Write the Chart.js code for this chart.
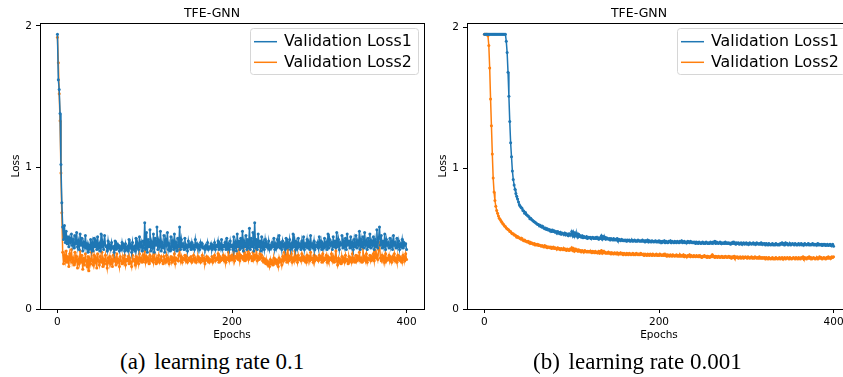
<!DOCTYPE html>
<html>
<head>
<meta charset="utf-8">
<script src="https://cdn.jsdelivr.net/npm/chart.js@4.4.1/dist/chart.umd.min.js"></script>
<style>
    html, body { margin: 0; padding: 0; background: #fff; overflow: hidden; width: 843px; height: 377px; }
    canvas { position: absolute; top: 0; }
    #chartA { left: 0; }
    #chartB { left: 427px; }
    .caption { position: absolute; top: 350px; font: 23px "Liberation Serif", "Times New Roman", serif; line-height: 23px; white-space: nowrap; color: #000; }
    .caption span { margin-right: 3px; }
</style>
</head>
<body>
<canvas id="chartA" width="430" height="345"></canvas>
<canvas id="chartB" width="430" height="345"></canvas>
<div class="caption" style="left:120px"><span>(a)</span> learning rate 0.1</div>
<div class="caption" style="left:533px"><span>(b)</span> learning rate 0.001</div>
<script>
const chartTitle = 'TFE-GNN';
const seriesNames = ['Validation Loss1', 'Validation Loss2'];
const xTicks = [0, 200, 400];
const yTicks = [0, 1, 2];

// (a) learning rate 0.1
const lossA1 = [
    1.94, 1.62, 1.55, 1.38, 1.02, 0.75, 0.58, 0.49, 0.59, 0.47, 0.55, 0.46, 0.51, 0.44, 0.50, 0.47, 0.53, 0.45, 0.49, 0.43,
    0.52, 0.46, 0.54, 0.44, 0.48, 0.42, 0.53, 0.45, 0.50, 0.41, 0.47, 0.44, 0.52, 0.43, 0.46, 0.40, 0.45, 0.43, 0.49, 0.42,
    0.47, 0.41, 0.50, 0.44, 0.48, 0.42, 0.51, 0.43, 0.46, 0.41, 0.53, 0.44, 0.47, 0.42, 0.52, 0.45, 0.44, 0.41, 0.48, 0.43,
    0.45, 0.42, 0.47, 0.43, 0.44, 0.40, 0.48, 0.42, 0.46, 0.43, 0.45, 0.41, 0.44, 0.42, 0.47, 0.43, 0.45, 0.41, 0.46, 0.42,
    0.44, 0.41, 0.49, 0.43, 0.45, 0.40, 0.47, 0.42, 0.44, 0.41, 0.50, 0.43, 0.46, 0.42, 0.51, 0.44, 0.47, 0.41, 0.48, 0.43,
    0.61, 0.42, 0.54, 0.40, 0.49, 0.44, 0.56, 0.41, 0.47, 0.43, 0.53, 0.40, 0.50, 0.45, 0.58, 0.42, 0.48, 0.44, 0.55, 0.41,
    0.47, 0.43, 0.52, 0.40, 0.49, 0.45, 0.54, 0.42, 0.46, 0.41, 0.51, 0.44, 0.48, 0.42, 0.53, 0.43, 0.47, 0.41, 0.50, 0.44,
    0.58, 0.42, 0.49, 0.44, 0.46, 0.42, 0.50, 0.43, 0.45, 0.41, 0.48, 0.44, 0.46, 0.42, 0.47, 0.43, 0.45, 0.42, 0.49, 0.44,
    0.46, 0.43, 0.45, 0.42, 0.47, 0.44, 0.46, 0.43, 0.44, 0.42, 0.45, 0.43, 0.47, 0.42, 0.44, 0.43, 0.46, 0.42, 0.45, 0.43,
    0.47, 0.42, 0.45, 0.44, 0.48, 0.42, 0.46, 0.43, 0.49, 0.42, 0.45, 0.44, 0.47, 0.42, 0.50, 0.43, 0.46, 0.42, 0.48, 0.44,
    0.45, 0.42, 0.51, 0.43, 0.47, 0.41, 0.53, 0.44, 0.48, 0.42, 0.50, 0.43, 0.55, 0.41, 0.48, 0.44, 0.52, 0.42, 0.49, 0.43,
    0.57, 0.42, 0.50, 0.44, 0.54, 0.41, 0.61, 0.43, 0.49, 0.42, 0.53, 0.44, 0.48, 0.41, 0.51, 0.43, 0.47, 0.42, 0.49, 0.44,
    0.46, 0.43, 0.48, 0.42, 0.45, 0.43, 0.47, 0.44, 0.50, 0.42, 0.46, 0.43, 0.49, 0.44, 0.52, 0.43, 0.47, 0.42, 0.48, 0.44,
    0.46, 0.42, 0.50, 0.43, 0.47, 0.44, 0.49, 0.42, 0.46, 0.43, 0.53, 0.44, 0.48, 0.42, 0.47, 0.43, 0.50, 0.44, 0.46, 0.42,
    0.48, 0.43, 0.51, 0.42, 0.46, 0.44, 0.49, 0.43, 0.47, 0.42, 0.52, 0.44, 0.46, 0.43, 0.48, 0.42, 0.45, 0.44, 0.47, 0.43,
    0.51, 0.44, 0.48, 0.42, 0.46, 0.43, 0.50, 0.44, 0.47, 0.42, 0.53, 0.43, 0.49, 0.45, 0.47, 0.42, 0.51, 0.44, 0.48, 0.43,
    0.54, 0.44, 0.49, 0.42, 0.47, 0.45, 0.52, 0.43, 0.48, 0.44, 0.50, 0.42, 0.53, 0.45, 0.48, 0.43, 0.51, 0.44, 0.47, 0.42,
    0.49, 0.44, 0.52, 0.43, 0.48, 0.45, 0.55, 0.42, 0.49, 0.44, 0.51, 0.43, 0.54, 0.45, 0.48, 0.42, 0.50, 0.44, 0.53, 0.43,
    0.48, 0.45, 0.51, 0.42, 0.49, 0.44, 0.56, 0.43, 0.50, 0.58, 0.45, 0.52, 0.43, 0.48, 0.44, 0.53, 0.42, 0.49, 0.45, 0.47,
    0.43, 0.50, 0.44, 0.48, 0.42, 0.52, 0.45, 0.47, 0.43, 0.50, 0.44, 0.48, 0.42, 0.46, 0.44, 0.49, 0.43, 0.47, 0.45, 0.46,
    0.42
];
const lossA2 = [
    1.92, 1.74, 1.52, 1.33, 0.96, 0.68, 0.40, 0.32, 0.38, 0.34, 0.41, 0.33, 0.37, 0.30, 0.39, 0.35, 0.42, 0.33, 0.36, 0.31,
    0.40, 0.34, 0.37, 0.29, 0.35, 0.32, 0.41, 0.33, 0.38, 0.28, 0.36, 0.31, 0.39, 0.34, 0.30, 0.37, 0.27, 0.35, 0.32, 0.40,
    0.34, 0.31, 0.38, 0.33, 0.36, 0.29, 0.39, 0.34, 0.31, 0.37, 0.33, 0.40, 0.30, 0.35, 0.32, 0.38, 0.34, 0.29, 0.36, 0.33,
    0.37, 0.32, 0.35, 0.30, 0.38, 0.34, 0.36, 0.31, 0.39, 0.33, 0.35, 0.30, 0.37, 0.34, 0.32, 0.36, 0.33, 0.38, 0.31, 0.35,
    0.34, 0.37, 0.32, 0.36, 0.33, 0.30, 0.38, 0.34, 0.35, 0.31, 0.37, 0.33, 0.36, 0.32, 0.39, 0.34, 0.36, 0.33, 0.38, 0.35,
    0.41, 0.33, 0.37, 0.34, 0.36, 0.32, 0.38, 0.35, 0.34, 0.37, 0.33, 0.39, 0.35, 0.32, 0.36, 0.34, 0.38, 0.33, 0.35, 0.37,
    0.34, 0.32, 0.37, 0.35, 0.33, 0.38, 0.34, 0.36, 0.32, 0.35, 0.37, 0.33, 0.36, 0.34, 0.39, 0.32, 0.36, 0.35, 0.34, 0.38,
    0.42, 0.34, 0.37, 0.33, 0.36, 0.35, 0.38, 0.34, 0.37, 0.33, 0.35, 0.36, 0.34, 0.37, 0.33, 0.35, 0.38, 0.34, 0.36, 0.33,
    0.35, 0.37, 0.34, 0.36, 0.33, 0.35, 0.38, 0.34, 0.36, 0.32, 0.35, 0.37, 0.34, 0.36, 0.33, 0.35, 0.34, 0.37, 0.33, 0.36,
    0.38, 0.34, 0.36, 0.35, 0.39, 0.33, 0.37, 0.34, 0.36, 0.35, 0.38, 0.34, 0.37, 0.33, 0.36, 0.35, 0.40, 0.34, 0.37, 0.35,
    0.38, 0.35, 0.41, 0.34, 0.37, 0.36, 0.39, 0.35, 0.42, 0.34, 0.38, 0.36, 0.37, 0.35, 0.40, 0.34, 0.38, 0.36, 0.41, 0.35,
    0.39, 0.36, 0.37, 0.34, 0.40, 0.35, 0.38, 0.36, 0.42, 0.34, 0.37, 0.35, 0.39, 0.36, 0.38, 0.34, 0.36, 0.33, 0.35, 0.32,
    0.34, 0.31, 0.33, 0.30, 0.35, 0.32, 0.34, 0.31, 0.36, 0.33, 0.35, 0.32, 0.34, 0.30, 0.36, 0.33, 0.35, 0.31, 0.37, 0.34,
    0.40, 0.35, 0.38, 0.33, 0.42, 0.34, 0.37, 0.35, 0.39, 0.33, 0.36, 0.34, 0.41, 0.35, 0.37, 0.33, 0.38, 0.35, 0.36, 0.34,
    0.39, 0.35, 0.37, 0.34, 0.36, 0.33, 0.38, 0.35, 0.37, 0.34, 0.40, 0.35, 0.36, 0.33, 0.38, 0.34, 0.37, 0.35, 0.36, 0.34,
    0.38, 0.35, 0.37, 0.33, 0.39, 0.34, 0.36, 0.35, 0.38, 0.33, 0.37, 0.34, 0.36, 0.35, 0.39, 0.34, 0.37, 0.33, 0.36, 0.41,
    0.34, 0.31, 0.36, 0.33, 0.35, 0.32, 0.37, 0.34, 0.36, 0.33, 0.38, 0.34, 0.35, 0.32, 0.37, 0.34, 0.36, 0.33, 0.39, 0.34,
    0.36, 0.33, 0.38, 0.34, 0.37, 0.35, 0.40, 0.34, 0.36, 0.33, 0.43, 0.35, 0.37, 0.34, 0.39, 0.33, 0.36, 0.35, 0.38, 0.34,
    0.37, 0.35, 0.39, 0.34, 0.41, 0.36, 0.38, 0.35, 0.42, 0.47, 0.36, 0.34, 0.38, 0.35, 0.37, 0.33, 0.39, 0.34, 0.36, 0.35,
    0.38, 0.34, 0.36, 0.33, 0.37, 0.35, 0.39, 0.34, 0.36, 0.33, 0.38, 0.35, 0.37, 0.34, 0.36, 0.33, 0.38, 0.35, 0.34, 0.39,
    0.35
];

// (b) learning rate 0.001
const lossB1 = [
    1.95, 1.95, 1.95, 1.95, 1.95, 1.95, 1.95, 1.95, 1.95, 1.95, 1.95, 1.95, 1.95, 1.95, 1.95, 1.95, 1.95, 1.95, 1.95, 1.95,
    1.95, 1.95, 1.95, 1.95, 1.95, 1.90, 1.82, 1.68, 1.51, 1.33, 1.18, 1.08, 0.98, 0.92, 0.88, 0.85, 0.82, 0.80, 0.78, 0.76,
    0.74, 0.73, 0.72, 0.715, 0.70, 0.695, 0.68, 0.685, 0.67, 0.665, 0.66, 0.655, 0.64, 0.645, 0.635, 0.63, 0.625, 0.62, 0.615, 0.61,
    0.605, 0.60, 0.60, 0.59, 0.595, 0.585, 0.58, 0.585, 0.575, 0.57, 0.575, 0.565, 0.57, 0.56, 0.565, 0.555, 0.56, 0.55, 0.56, 0.55,
    0.555, 0.545, 0.55, 0.54, 0.55, 0.545, 0.535, 0.545, 0.53, 0.54, 0.535, 0.53, 0.54, 0.525, 0.535, 0.53, 0.52, 0.535, 0.525, 0.53,
    0.55, 0.52, 0.545, 0.515, 0.54, 0.52, 0.535, 0.51, 0.53, 0.515, 0.52, 0.51, 0.52, 0.505, 0.515, 0.51, 0.505, 0.515, 0.50, 0.51,
    0.505, 0.51, 0.50, 0.505, 0.51, 0.50, 0.505, 0.50, 0.51, 0.50, 0.505, 0.495, 0.505, 0.50, 0.52, 0.495, 0.515, 0.50, 0.51, 0.495,
    0.505, 0.50, 0.495, 0.50, 0.49, 0.50, 0.495, 0.49, 0.50, 0.49, 0.495, 0.49, 0.50, 0.485, 0.495, 0.49, 0.485, 0.495, 0.49, 0.485,
    0.49, 0.485, 0.49, 0.48, 0.49, 0.485, 0.49, 0.48, 0.485, 0.49, 0.48, 0.485, 0.49, 0.48, 0.485, 0.48, 0.49, 0.485, 0.48, 0.485,
    0.48, 0.49, 0.48, 0.485, 0.475, 0.485, 0.48, 0.49, 0.475, 0.485, 0.48, 0.475, 0.485, 0.48, 0.475, 0.48, 0.485, 0.475, 0.48, 0.475,
    0.485, 0.475, 0.48, 0.47, 0.48, 0.475, 0.485, 0.47, 0.48, 0.475, 0.47, 0.48, 0.475, 0.485, 0.47, 0.48, 0.475, 0.47, 0.48, 0.475,
    0.47, 0.48, 0.475, 0.47, 0.48, 0.475, 0.485, 0.47, 0.475, 0.48, 0.47, 0.475, 0.47, 0.48, 0.475, 0.47, 0.48, 0.475, 0.47, 0.475,
    0.47, 0.475, 0.465, 0.475, 0.47, 0.465, 0.475, 0.47, 0.465, 0.47, 0.475, 0.465, 0.47, 0.465, 0.475, 0.47, 0.465, 0.47, 0.465, 0.475,
    0.47, 0.465, 0.475, 0.47, 0.48, 0.465, 0.475, 0.47, 0.465, 0.47, 0.475, 0.465, 0.47, 0.465, 0.47, 0.465, 0.475, 0.465, 0.47, 0.465,
    0.47, 0.465, 0.46, 0.47, 0.465, 0.475, 0.465, 0.47, 0.46, 0.47, 0.465, 0.47, 0.46, 0.465, 0.47, 0.46, 0.465, 0.47, 0.46, 0.465,
    0.47, 0.46, 0.465, 0.46, 0.47, 0.465, 0.46, 0.465, 0.47, 0.46, 0.465, 0.46, 0.47, 0.465, 0.46, 0.465, 0.46, 0.47, 0.46, 0.465,
    0.46, 0.465, 0.455, 0.465, 0.46, 0.455, 0.465, 0.46, 0.455, 0.46, 0.465, 0.455, 0.46, 0.455, 0.465, 0.46, 0.455, 0.46, 0.455, 0.465,
    0.46, 0.47, 0.46, 0.465, 0.455, 0.47, 0.46, 0.465, 0.455, 0.46, 0.465, 0.455, 0.46, 0.465, 0.46, 0.455, 0.465, 0.46, 0.455, 0.46,
    0.465, 0.455, 0.46, 0.465, 0.455, 0.46, 0.455, 0.465, 0.46, 0.455, 0.46, 0.465, 0.455, 0.46, 0.455, 0.46, 0.465, 0.455, 0.46, 0.455,
    0.46, 0.455, 0.465, 0.455, 0.46, 0.455, 0.46, 0.45, 0.46, 0.455, 0.46, 0.45, 0.455, 0.46, 0.45, 0.455, 0.46, 0.45, 0.455, 0.46,
    0.445
];
const lossB2 = [
    1.95, 1.95, 1.95, 1.95, 1.94, 1.87, 1.71, 1.49, 1.30, 1.10, 0.93, 0.83, 0.77, 0.73, 0.70, 0.68, 0.66, 0.645, 0.635, 0.625,
    0.615, 0.605, 0.60, 0.59, 0.585, 0.575, 0.57, 0.565, 0.56, 0.55, 0.55, 0.54, 0.535, 0.535, 0.525, 0.525, 0.52, 0.51, 0.515, 0.505,
    0.505, 0.50, 0.495, 0.50, 0.49, 0.485, 0.49, 0.48, 0.48, 0.475, 0.48, 0.47, 0.475, 0.465, 0.47, 0.465, 0.46, 0.465, 0.455, 0.46,
    0.455, 0.46, 0.45, 0.455, 0.45, 0.445, 0.45, 0.445, 0.44, 0.45, 0.44, 0.445, 0.435, 0.44, 0.44, 0.435, 0.44, 0.43, 0.435, 0.44,
    0.43, 0.435, 0.43, 0.425, 0.435, 0.425, 0.43, 0.42, 0.43, 0.425, 0.42, 0.43, 0.42, 0.425, 0.415, 0.425, 0.42, 0.415, 0.425, 0.42,
    0.435, 0.415, 0.43, 0.41, 0.425, 0.415, 0.42, 0.41, 0.42, 0.41, 0.415, 0.405, 0.415, 0.41, 0.405, 0.415, 0.41, 0.405, 0.41, 0.405,
    0.41, 0.405, 0.41, 0.40, 0.41, 0.405, 0.40, 0.41, 0.40, 0.405, 0.40, 0.41, 0.395, 0.405, 0.415, 0.395, 0.41, 0.40, 0.405, 0.395,
    0.40, 0.395, 0.405, 0.395, 0.40, 0.39, 0.40, 0.395, 0.39, 0.40, 0.395, 0.39, 0.40, 0.39, 0.395, 0.39, 0.40, 0.39, 0.395, 0.385,
    0.395, 0.39, 0.385, 0.395, 0.39, 0.385, 0.395, 0.39, 0.385, 0.39, 0.395, 0.385, 0.39, 0.385, 0.395, 0.39, 0.385, 0.39, 0.385, 0.395,
    0.39, 0.385, 0.39, 0.38, 0.39, 0.385, 0.38, 0.39, 0.385, 0.38, 0.39, 0.385, 0.38, 0.39, 0.385, 0.38, 0.385, 0.39, 0.38, 0.385,
    0.38, 0.39, 0.385, 0.38, 0.385, 0.38, 0.39, 0.38, 0.385, 0.375, 0.385, 0.38, 0.375, 0.385, 0.38, 0.375, 0.385, 0.38, 0.375, 0.38,
    0.385, 0.375, 0.38, 0.375, 0.385, 0.375, 0.38, 0.375, 0.385, 0.37, 0.38, 0.375, 0.37, 0.38, 0.375, 0.385, 0.37, 0.38, 0.375, 0.37,
    0.38, 0.375, 0.37, 0.38, 0.375, 0.37, 0.38, 0.37, 0.375, 0.365, 0.375, 0.37, 0.38, 0.37, 0.375, 0.365, 0.375, 0.37, 0.365, 0.375,
    0.37, 0.385, 0.37, 0.375, 0.365, 0.375, 0.37, 0.365, 0.375, 0.37, 0.365, 0.37, 0.375, 0.365, 0.37, 0.365, 0.375, 0.37, 0.365, 0.37,
    0.375, 0.365, 0.37, 0.36, 0.37, 0.365, 0.375, 0.36, 0.37, 0.365, 0.37, 0.36, 0.365, 0.37, 0.36, 0.365, 0.37, 0.36, 0.365, 0.37,
    0.365, 0.36, 0.37, 0.365, 0.36, 0.365, 0.37, 0.36, 0.365, 0.36, 0.37, 0.365, 0.36, 0.365, 0.36, 0.37, 0.36, 0.365, 0.36, 0.365,
    0.36, 0.365, 0.355, 0.365, 0.36, 0.355, 0.365, 0.36, 0.355, 0.36, 0.365, 0.355, 0.36, 0.355, 0.365, 0.36, 0.355, 0.36, 0.365, 0.355,
    0.36, 0.365, 0.355, 0.36, 0.365, 0.355, 0.36, 0.365, 0.36, 0.355, 0.365, 0.36, 0.355, 0.36, 0.365, 0.36, 0.355, 0.365, 0.36, 0.355,
    0.365, 0.36, 0.355, 0.365, 0.36, 0.37, 0.355, 0.365, 0.36, 0.355, 0.365, 0.36, 0.37, 0.36, 0.365, 0.355, 0.36, 0.365, 0.36, 0.355,
    0.36, 0.365, 0.355, 0.36, 0.37, 0.36, 0.365, 0.355, 0.36, 0.365, 0.36, 0.355, 0.365, 0.36, 0.37, 0.36, 0.365, 0.36, 0.37, 0.365,
    0.37
];

const colors = ['#1f77b4', '#ff7f0e'];
const uiFont = '"DejaVu Sans", Verdana, sans-serif';

// full box around the plot, like matplotlib spines
const framePlugin = {
    id: 'frame',
    afterDraw(chart) {
        const { ctx, chartArea: a } = chart;
        ctx.save();
        ctx.strokeStyle = '#000';
        ctx.lineWidth = 1;
        ctx.strokeRect(Math.round(a.left) + 0.5, Math.round(a.top) + 0.5,
            Math.round(a.right) - Math.round(a.left), Math.round(a.bottom) - Math.round(a.top));
        ctx.restore();
    }
};

// framed legend in the upper right corner
const boxLegendPlugin = {
    id: 'boxLegend',
    afterDraw(chart) {
        const { ctx, chartArea } = chart;
        const left = chartArea.right - 174;
        const top = chartArea.top + 5;
        ctx.save();
        ctx.beginPath();
        if (ctx.roundRect) {
            ctx.roundRect(left + 0.5, top + 0.5, 168, 46, 3);
        } else {
            ctx.rect(left + 0.5, top + 0.5, 168, 46);
        }
        ctx.fillStyle = 'rgba(255,255,255,0.8)';
        ctx.fill();
        ctx.strokeStyle = '#d6d6d6';
        ctx.lineWidth = 1;
        ctx.stroke();
        chart.data.datasets.forEach((ds, i) => {
            const y = top + 13.7 + i * 20.6;
            ctx.strokeStyle = ds.borderColor;
            ctx.lineWidth = 1.5;
            ctx.beginPath();
            ctx.moveTo(left + 4, y);
            ctx.lineTo(left + 27, y);
            ctx.stroke();
            ctx.fillStyle = '#000';
            ctx.font = '15.8px ' + uiFont;
            ctx.textBaseline = 'middle';
            ctx.textAlign = 'left';
            ctx.fillText(ds.label, left + 34, y + 0.5);
        });
        ctx.restore();
    }
};

function makeDataset(name, values, color) {
    return {
        label: name,
        data: values.map((v, i) => ({ x: i, y: v })),
        borderColor: color,
        backgroundColor: color,
        borderWidth: 1.5,
        pointRadius: 1.5,
        pointBorderWidth: 0,
        pointBackgroundColor: color,
        pointHoverRadius: 0,
        tension: 0
    };
}

function makeChart(canvasId, loss1, loss2, yMax) {
    const ctx = document.getElementById(canvasId).getContext('2d');
    return new Chart(ctx, {
        type: 'line',
        data: {
            datasets: [
                makeDataset(seriesNames[0], loss1, colors[0]),
                makeDataset(seriesNames[1], loss2, colors[1])
            ]
        },
        options: {
            responsive: false,
            animation: false,
            devicePixelRatio: 1,
            layout: { padding: { left: 0, right: 6, top: 0, bottom: 0 } },
            plugins: {
                legend: { display: false },
                tooltip: { enabled: false },
                title: {
                    display: true,
                    text: chartTitle,
                    color: '#000',
                    font: { family: uiFont, size: 12.5, weight: 'normal' },
                    padding: { top: 6, bottom: 2 }
                }
            },
            scales: {
                x: {
                    type: 'linear',
                    min: -20,
                    max: 420,
                    afterBuildTicks: (axis) => { axis.ticks = xTicks.map(v => ({ value: v })); },
                    afterFit: (axis) => { axis.height = 36; },
                    ticks: {
                        color: '#000',
                        padding: 3,
                        maxRotation: 0,
                        autoSkip: false,
                        font: { family: uiFont, size: 10.5 },
                        callback: (v) => String(v)
                    },
                    grid: { display: true, drawOnChartArea: false, drawTicks: true, tickLength: 4, color: '#000', lineWidth: 1 },
                    border: { display: false },
                    title: {
                        display: true,
                        text: 'Epochs',
                        color: '#000',
                        font: { family: uiFont, size: 10.5 },
                        padding: { top: 0, bottom: 3 }
                    }
                },
                y: {
                    type: 'linear',
                    min: 0,
                    max: yMax,
                    afterBuildTicks: (axis) => { axis.ticks = yTicks.map(v => ({ value: v })); },
                    afterFit: (axis) => { axis.width = 40; },
                    ticks: {
                        color: '#000',
                        padding: 4,
                        autoSkip: false,
                        font: { family: uiFont, size: 10.5 },
                        callback: (v) => String(v)
                    },
                    grid: { display: true, drawOnChartArea: false, drawTicks: true, tickLength: 4, color: '#000', lineWidth: 1 },
                    border: { display: false },
                    title: {
                        display: true,
                        text: 'Loss',
                        color: '#000',
                        font: { family: uiFont, size: 10.5 },
                        padding: { top: 10, bottom: 0 }
                    }
                }
            }
        },
        plugins: [framePlugin, boxLegendPlugin]
    });
}

makeChart('chartA', lossA1, lossA2, 2.02);
makeChart('chartB', lossB1, lossB2, 2.03);
</script>
</body>
</html>
